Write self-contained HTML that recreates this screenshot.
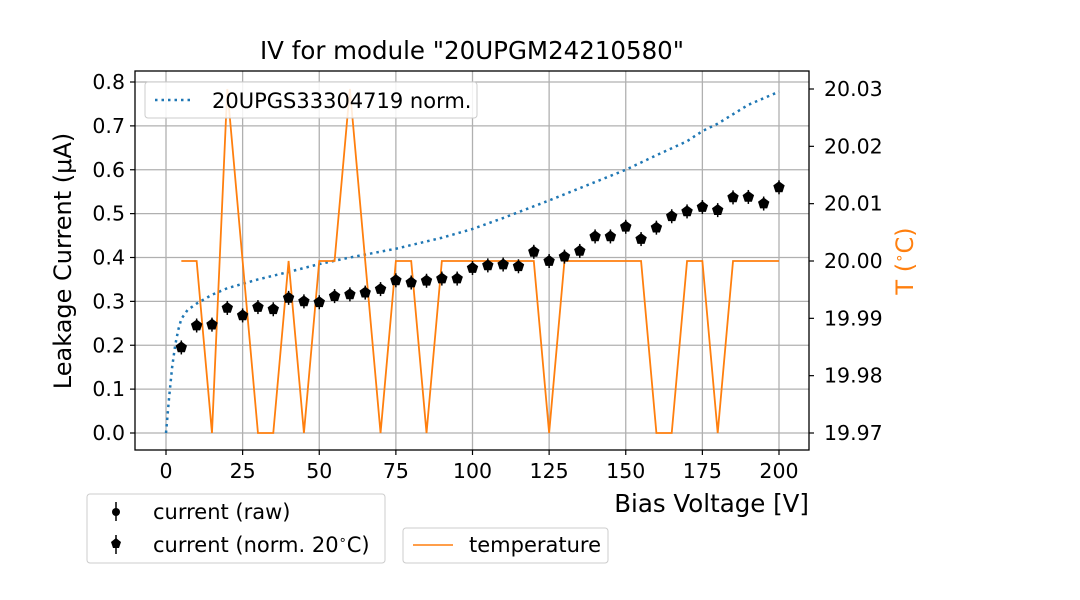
<!DOCTYPE html>
<html><head><meta charset="utf-8"><style>
body{margin:0;background:#fff}
svg{display:block;font-family:"DejaVu Sans","Liberation Sans",sans-serif}
</style></head><body>
<svg id="chart" width="1080" height="600" viewBox="0 0 1080 600" xmlns="http://www.w3.org/2000/svg">
<rect width="1080" height="600" fill="#fff"/>
<g id="grid"></g>
<g id="series"></g>
<rect x="135" y="71" width="674" height="379" fill="none" stroke="#000" stroke-width="1.3"/>
<g id="axes"></g>
<text x="472" y="59" font-size="24.5" text-anchor="middle">IV for module "20UPGM24210580"</text>
<text transform="translate(71,261) rotate(-90)" font-size="24" text-anchor="middle">Leakage Current (μA)</text>
<text transform="translate(913,261) rotate(-90)" font-size="24" text-anchor="middle" fill="#ff7f0e">T (<tspan font-size="15" dy="-9">∘</tspan><tspan dy="9">C)</tspan></text>
<text x="809" y="512" font-size="24.5" text-anchor="end">Bias Voltage [V]</text>
<g>
<rect x="145" y="82" width="332" height="36" rx="3" fill="#fff" fill-opacity="0.85" stroke="#ccc"/>
<line x1="155" y1="100" x2="190" y2="100" stroke="#1f77b4" stroke-width="2.5" stroke-dasharray="2.5,4"/>
<text x="212" y="108" font-size="21">20UPGS33304719 norm.</text>
</g>
<g>
<rect x="87" y="494" width="298" height="69" rx="3" fill="#fff" stroke="#ccc"/>
<line x1="116" y1="502" x2="116" y2="521" stroke="#000" stroke-width="1.5"/>
<circle cx="116" cy="512" r="4" fill="#000"/>
<text x="153" y="519" font-size="21">current (raw)</text>
<line x1="116" y1="535" x2="116" y2="554" stroke="#000" stroke-width="1.5"/>
<polygon points="116,538 121,542 119,548 113,548 111,542" fill="#000"/>
<text x="153" y="552" font-size="21">current (norm. 20<tspan font-size="13" dy="-8">∘</tspan><tspan dy="8">C)</tspan></text>
</g>
<g>
<rect x="403" y="528" width="205" height="35" rx="3" fill="#fff" stroke="#ccc"/>
<line x1="413" y1="545" x2="453" y2="545" stroke="#ff7f0e" stroke-width="1.5"/>
<text x="469" y="552" font-size="21">temperature</text>
</g>
</svg>
<script>
const voltages=[5,10,15,20,25,30,35,40,45,50,55,60,65,70,75,80,85,90,95,100,105,110,115,120,125,130,135,140,145,150,155,160,165,170,175,180,185,190,195,200];
const currentNorm=[0.195,0.245,0.247,0.285,0.268,0.287,0.282,0.308,0.300,0.298,0.312,0.316,0.320,0.328,0.348,0.343,0.347,0.352,0.352,0.376,0.382,0.384,0.380,0.413,0.392,0.402,0.415,0.448,0.448,0.470,0.442,0.468,0.494,0.505,0.515,0.508,0.537,0.538,0.523,0.560];
const temperature=[20.00,20.00,19.97,20.03,20.00,19.97,19.97,20.00,19.97,20.00,20.00,20.03,20.00,19.97,20.00,20.00,19.97,20.00,20.00,20.00,20.00,20.00,20.00,20.00,19.97,20.00,20.00,20.00,20.00,20.00,20.00,19.97,19.97,20.00,20.00,19.97,20.00,20.00,20.00,20.00];
const refVoltages=[0,1,2,3,4,5,7,10,15,20,30,40,50,60,75,90,100,110,125,140,150,160,170,175,180,190,200];
const refCurrent=[0,0.08,0.15,0.2,0.235,0.26,0.28,0.295,0.315,0.33,0.35,0.367,0.385,0.4,0.42,0.445,0.465,0.49,0.53,0.572,0.60,0.633,0.665,0.688,0.705,0.748,0.778];
const xTicks=[0,25,50,75,100,125,150,175,200];
const yTicks=[0,0.1,0.2,0.3,0.4,0.5,0.6,0.7,0.8];
const y2Ticks=[19.97,19.98,19.99,20.00,20.01,20.02,20.03];
const NS='http://www.w3.org/2000/svg';
const X=v=>166+(v/200)*(779-166);
const Y=c=>433-(c/0.8)*(433-82);
const Y2=t=>433-((t-19.97)/0.06)*(433-89);
function mk(tag,attrs,parent){const e=document.createElementNS(NS,tag);for(const k in attrs)e.setAttribute(k,attrs[k]);parent.appendChild(e);return e;}
const grid=document.getElementById('grid'),axes=document.getElementById('axes'),ser=document.getElementById('series');
xTicks.forEach(v=>{
 const g=mk('line',{x1:X(v),x2:X(v),y1:71,y2:450,stroke:'#b0b0b0','stroke-width':1.3},grid);
 
 
 mk('line',{x1:X(v),x2:X(v),y1:450,y2:455,stroke:'#000','stroke-width':1.2},axes);
 const t=mk('text',{x:X(v),y:478,'font-size':20.5,'text-anchor':'middle'},axes);t.textContent=v;
 
 
});
yTicks.forEach(c=>{
 const g=mk('line',{x1:135,x2:809,y1:Y(c),y2:Y(c),stroke:'#b0b0b0','stroke-width':1.3},grid);
 
 
 mk('line',{x1:130,x2:135,y1:Y(c),y2:Y(c),stroke:'#000','stroke-width':1.2},axes);
 const t=mk('text',{x:125,y:Y(c)+7,'font-size':20.5,'text-anchor':'end'},axes);t.textContent=c.toFixed(1);
 
 
});
y2Ticks.forEach(v=>{
 mk('line',{x1:809,x2:814,y1:Y2(v),y2:Y2(v),stroke:'#000','stroke-width':1.2},axes);
 const t=mk('text',{x:824,y:Y2(v)+7,'font-size':20.5},axes);t.textContent=v.toFixed(2);
 
 
});
const ref=mk('polyline',{points:refVoltages.map((v,i)=>X(v)+','+Y(refCurrent[i])).join(' '),fill:'none',stroke:'#1f77b4','stroke-width':2.5,'stroke-dasharray':'2.5,4'},ser);


const tl=mk('polyline',{points:voltages.map((v,i)=>X(v)+','+Y2(temperature[i])).join(' '),fill:'none',stroke:'#ff7f0e','stroke-width':1.8},ser);


voltages.forEach((v,i)=>{
 const cx=X(v),cy=Y(currentNorm[i]);
 mk('line',{x1:cx,x2:cx,y1:cy-7,y2:cy+7,stroke:'#000','stroke-width':1.5},ser);
 const r=6,pts=[];for(let k=0;k<5;k++){const a=-Math.PI/2+k*2*Math.PI/5;pts.push((cx+r*Math.cos(a)).toFixed(1)+','+(cy+r*Math.sin(a)).toFixed(1));}
 const p=mk('polygon',{points:pts.join(' '),fill:'#000'},ser);
 
 
});
</script>
</body></html>
